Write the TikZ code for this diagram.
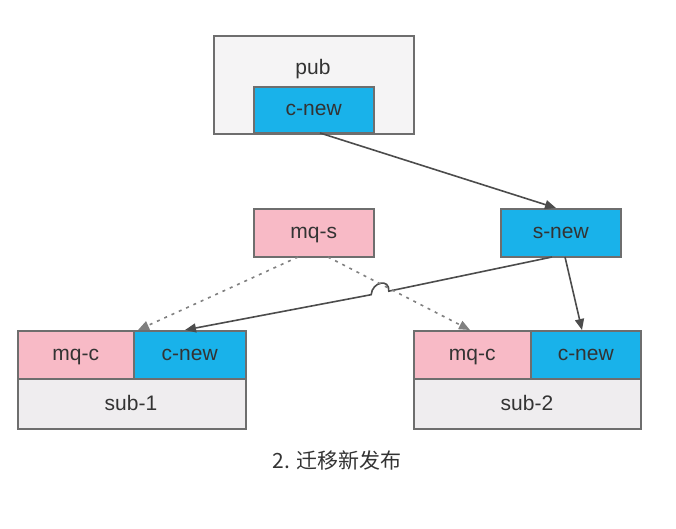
\documentclass[tikz,border=0pt]{standalone}
\usepackage{fontspec}
\setmainfont{Liberation Sans}
\newfontfamily\cjk{Noto Sans CJK SC}
\usetikzlibrary{calc,arrows.meta}
\definecolor{cblue}{HTML}{19B2EA}
\definecolor{cpink}{HTML}{F8BAC6}
\definecolor{cgray}{HTML}{EFEDEF}
\definecolor{cline}{HTML}{6E6E6E}
\begin{document}
\begin{tikzpicture}[x=1pt,y=-1pt,
  box/.style={draw=cline,line width=1.5pt,inner sep=0pt},
  lab/.style={font=\fontsize{21}{21}\selectfont,text=black!80,text height=12pt,text depth=0pt},
  arr/.style={draw=black!70,line width=1.6pt,-{Triangle[length=11pt,width=9pt]}},
  darr/.style={arr,dash pattern=on 3pt off 5pt,draw=black!50}]
\useasboundingbox (0,0) rectangle (676,528);
% pub
\node[box,fill=cgray!60,minimum width=200,minimum height=98,anchor=north west] (pub) at (213,35) {};
\node[lab] (publ) at (313,68) {pub};
\node[box,fill=cblue,minimum width=120,minimum height=46,anchor=north west,lab] (pc) at (253,86) {c-new};
% s-new, mq-s
\node[box,fill=cblue,minimum width=120,minimum height=48,anchor=north west,lab] (sn) at (500,208) {s-new};
\node[box,fill=cpink,minimum width=120,minimum height=48,anchor=north west,lab] (ms) at (253,208) {mq-s};
% sub-1
\node[box,fill=cgray,minimum width=228,minimum height=98,anchor=north west] (s1) at (17,330) {};
\node[box,fill=cpink,minimum width=116,minimum height=48,anchor=north west,lab] (s1m) at (17,330) {mq-c};
\node[box,fill=cblue,minimum width=112,minimum height=48,anchor=north west,lab] (s1c) at (133,330) {c-new};
\node[lab] (s1l) at (131,404) {sub-1};
% sub-2
\node[box,fill=cgray,minimum width=227,minimum height=98,anchor=north west] (s2) at (413,330) {};
\node[box,fill=cpink,minimum width=117,minimum height=48,anchor=north west,lab] (s2m) at (413,330) {mq-c};
\node[box,fill=cblue,minimum width=110,minimum height=48,anchor=north west,lab] (s2c) at (530,330) {c-new};
\node[lab] (s2l) at (527,404) {sub-2};
% caption
\node[font=\cjk\fontsize{21}{21}\selectfont,text=black!80] (cap) at (337,461) {2. 迁移新发布};
% connectors
\coordinate (a1) at (320,133);
\coordinate (a2) at (556,208);
\draw[arr] (a1) -- (a2);
\coordinate (b1) at (552,257);
\coordinate (b2) at (185,330);
\coordinate (X) at (380,293);
\draw[arr] (b1) -- ($(X)!9pt!(b1)$) .. controls +(1,-13) and +(1,-13) .. ($(X)!9pt!(b2)$) -- (b2);
\coordinate (c1) at (565,257);
\coordinate (c2) at (582,330);
\draw[arr] (c1) -- (c2);
\coordinate (d1) at (298,257);
\coordinate (d2) at (138,330);
\draw[darr] (d1) -- (d2);
\coordinate (e1) at (328,257);
\coordinate (e2) at (470,330);
\draw[darr] (e1) -- (e2);
\end{tikzpicture}
\end{document}
